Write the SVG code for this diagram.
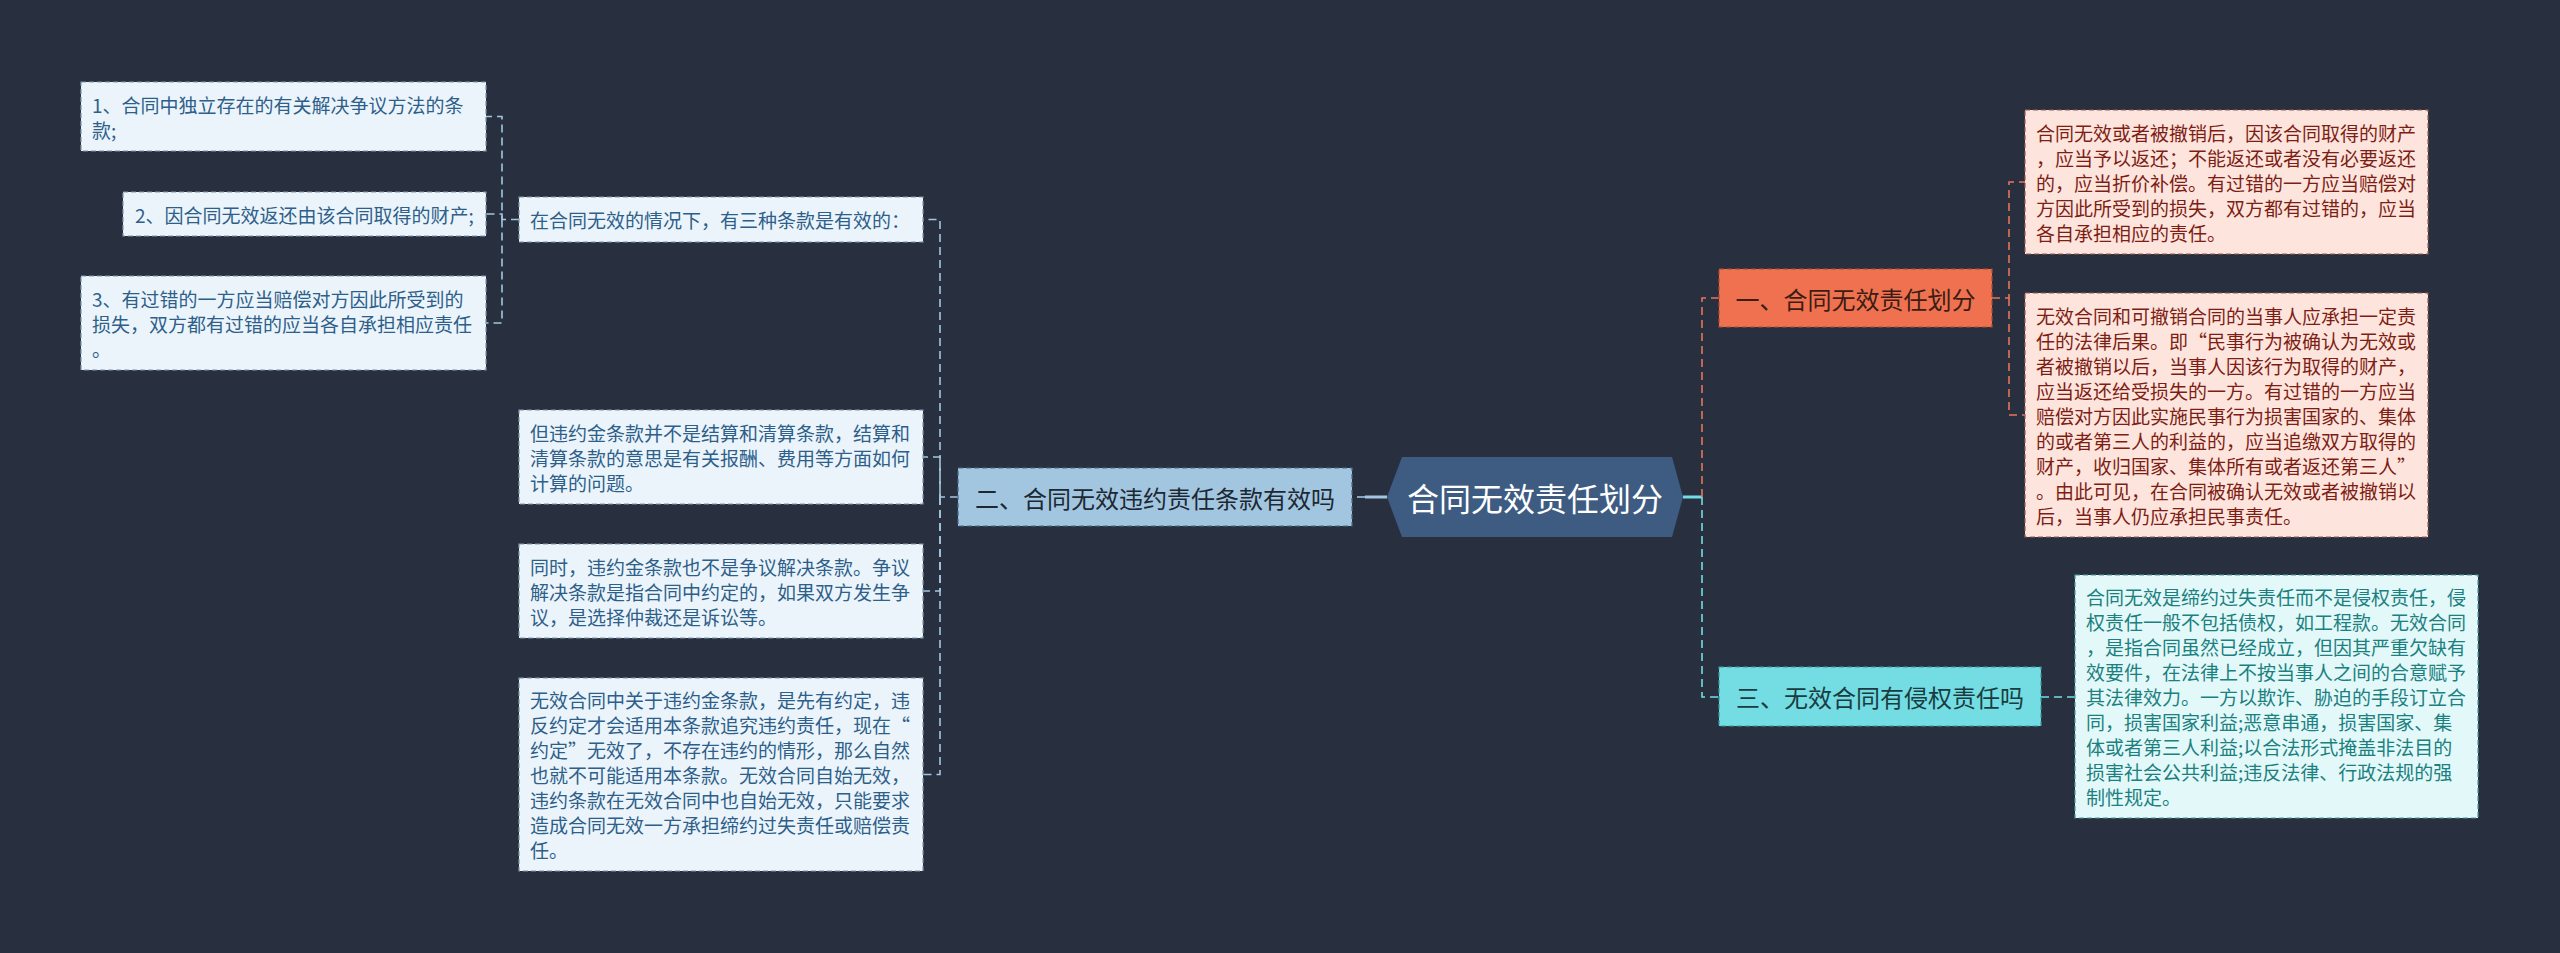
<svg xmlns="http://www.w3.org/2000/svg" width="2560" height="953" viewBox="0 0 2560 953">
<style>
text{font-family:"Noto Sans CJK SC","Noto Sans",sans-serif;dominant-baseline:central}
.leafL rect{fill:#ebf4fa;stroke:#7f97ab;stroke-width:1.2;stroke-dasharray:5 3}
.leafL text{font-size:19px;fill:#2e5f8a}
.leafO rect{fill:#fde5de;stroke:#9d5a4a;stroke-width:1.2;stroke-dasharray:5 3}
.leafO text{font-size:19px;fill:#7d1e14}
.leafC rect{fill:#e3f8f9;stroke:#4a9a9e;stroke-width:1.2;stroke-dasharray:5 3}
.leafC text{font-size:19px;fill:#1b8080}
.l1 text{font-size:24px}
.cL{fill:none;stroke:#a3c6e0;stroke-width:1.6;stroke-dasharray:8 5}
.cO{fill:none;stroke:#e8735a;stroke-width:1.6;stroke-dasharray:8 5}
.cC{fill:none;stroke:#73dde3;stroke-width:1.6;stroke-dasharray:8 5}
</style>
<rect x="0" y="0" width="2560" height="953" fill="#283040"/>

<g id="connectors">
  <!-- hexagon to level-1 -->
  <path d="M1387 497 H1365" fill="none" stroke="#a3c6e0" stroke-width="3"/>
  <path d="M1365 497 H1352" class="cL"/>
  <path d="M1683 497 H1702" fill="none" stroke="#73dde3" stroke-width="3"/>
  <path d="M1702 497 V298 H1719" class="cO"/>
  <path d="M1702 497 V697 H1719" class="cC"/>
  <!-- 二 to children -->
  <path d="M958 497 H940 V219.5 H923" class="cL"/>
  <path d="M940 497 V457 H923" class="cL"/>
  <path d="M940 497 V591 H923" class="cL"/>
  <path d="M940 497 V774.5 H923" class="cL"/>
  <!-- 在合同 to children -->
  <path d="M519 219.5 H502 V116.5 H486" class="cL"/>
  <path d="M502 219.5 V214 H486" class="cL"/>
  <path d="M502 219.5 V323 H486" class="cL"/>
  <!-- 一 to children -->
  <path d="M1992 298 H2009 V182 H2025" class="cO"/>
  <path d="M2009 298 V415 H2025" class="cO"/>
  <!-- 三 to child -->
  <path d="M2041 697 H2075" class="cC"/>
</g>

<g id="root">
  <polygon points="1387,497 1402,457 1672,457 1683,497 1672,537 1402,537" fill="#3e5c82"/>
  <text x="1535" y="497" font-size="32" fill="#ffffff" text-anchor="middle">合同无效责任划分</text>
</g>

<g id="n2" class="l1">
  <rect x="958" y="468" width="394" height="58" fill="#a3c6e0" stroke="#4a6a88" stroke-width="1.2" stroke-dasharray="5 3"/>
  <text x="1155" y="497" fill="#1c2833" text-anchor="middle">二、合同无效违约责任条款有效吗</text>
</g>

<g id="n1" class="l1">
  <rect x="1719" y="269" width="273" height="58" fill="#f0714f" stroke="#b04a30" stroke-width="1.2" stroke-dasharray="5 3"/>
  <text x="1855.5" y="298" fill="#3b1d14" text-anchor="middle">一、合同无效责任划分</text>
</g>

<g id="n3" class="l1">
  <rect x="1719" y="667" width="322" height="59" fill="#73dde3" stroke="#3a9aa0" stroke-width="1.2" stroke-dasharray="5 3"/>
  <text x="1880" y="696.5" fill="#1a3c40" text-anchor="middle">三、无效合同有侵权责任吗</text>
</g>

<g id="n2a" class="leafL">
  <rect x="519" y="197" width="404" height="45"/>
  <text x="530" y="219.5">在合同无效的情况下，有三种条款是有效的：</text>
</g>

<g id="n2a1" class="leafL">
  <rect x="81" y="82" width="405" height="69"/>
  <text x="92" y="104">1、合同中独立存在的有关解决争议方法的条</text>
  <text x="92" y="129">款;</text>
</g>

<g id="n2a2" class="leafL">
  <rect x="123" y="192" width="363" height="44"/>
  <text x="135" y="214">2、因合同无效返还由该合同取得的财产;</text>
</g>

<g id="n2a3" class="leafL">
  <rect x="81" y="276" width="405" height="94"/>
  <text x="92" y="298">3、有过错的一方应当赔偿对方因此所受到的</text>
  <text x="92" y="323">损失，双方都有过错的应当各自承担相应责任</text>
  <text x="92" y="348">。</text>
</g>

<g id="n2b" class="leafL">
  <rect x="519" y="410" width="404" height="94"/>
  <text x="530" y="432">但违约金条款并不是结算和清算条款，结算和</text>
  <text x="530" y="457">清算条款的意思是有关报酬、费用等方面如何</text>
  <text x="530" y="482">计算的问题。</text>
</g>

<g id="n2c" class="leafL">
  <rect x="519" y="544" width="404" height="94"/>
  <text x="530" y="566">同时，违约金条款也不是争议解决条款。争议</text>
  <text x="530" y="591">解决条款是指合同中约定的，如果双方发生争</text>
  <text x="530" y="616">议，是选择仲裁还是诉讼等。</text>
</g>

<g id="n2d" class="leafL">
  <rect x="519" y="678" width="404" height="193"/>
  <text x="530" y="699.5">无效合同中关于违约金条款，是先有约定，违</text>
  <text x="530" y="724.5">反约定才会适用本条款追究违约责任，现在“</text>
  <text x="530" y="749.5">约定”无效了，不存在违约的情形，那么自然</text>
  <text x="530" y="774.5">也就不可能适用本条款。无效合同自始无效，</text>
  <text x="530" y="799.5">违约条款在无效合同中也自始无效，只能要求</text>
  <text x="530" y="824.5">造成合同无效一方承担缔约过失责任或赔偿责</text>
  <text x="530" y="849.5">任。</text>
</g>

<g id="n1a" class="leafO">
  <rect x="2025" y="110" width="403" height="144"/>
  <text x="2036" y="132">合同无效或者被撤销后，因该合同取得的财产</text>
  <text x="2036" y="157">，应当予以返还；不能返还或者没有必要返还</text>
  <text x="2036" y="182">的，应当折价补偿。有过错的一方应当赔偿对</text>
  <text x="2036" y="207">方因此所受到的损失，双方都有过错的，应当</text>
  <text x="2036" y="232">各自承担相应的责任。</text>
</g>

<g id="n1b" class="leafO">
  <rect x="2025" y="293" width="403" height="244"/>
  <text x="2036" y="315">无效合同和可撤销合同的当事人应承担一定责</text>
  <text x="2036" y="340">任的法律后果。即“民事行为被确认为无效或</text>
  <text x="2036" y="365">者被撤销以后，当事人因该行为取得的财产，</text>
  <text x="2036" y="390">应当返还给受损失的一方。有过错的一方应当</text>
  <text x="2036" y="415">赔偿对方因此实施民事行为损害国家的、集体</text>
  <text x="2036" y="440">的或者第三人的利益的，应当追缴双方取得的</text>
  <text x="2036" y="465">财产，收归国家、集体所有或者返还第三人”</text>
  <text x="2036" y="490">。由此可见，在合同被确认无效或者被撤销以</text>
  <text x="2036" y="515">后，当事人仍应承担民事责任。</text>
</g>

<g id="n3a" class="leafC">
  <rect x="2075" y="575" width="403" height="243"/>
  <text x="2086" y="596.5">合同无效是缔约过失责任而不是侵权责任，侵</text>
  <text x="2086" y="621.5">权责任一般不包括债权，如工程款。无效合同</text>
  <text x="2086" y="646.5">，是指合同虽然已经成立，但因其严重欠缺有</text>
  <text x="2086" y="671.5">效要件，在法律上不按当事人之间的合意赋予</text>
  <text x="2086" y="696.5">其法律效力。一方以欺诈、胁迫的手段订立合</text>
  <text x="2086" y="721.5">同，损害国家利益;恶意串通，损害国家、集</text>
  <text x="2086" y="746.5">体或者第三人利益;以合法形式掩盖非法目的</text>
  <text x="2086" y="771.5">损害社会公共利益;违反法律、行政法规的强</text>
  <text x="2086" y="796.5">制性规定。</text>
</g>
</svg>
